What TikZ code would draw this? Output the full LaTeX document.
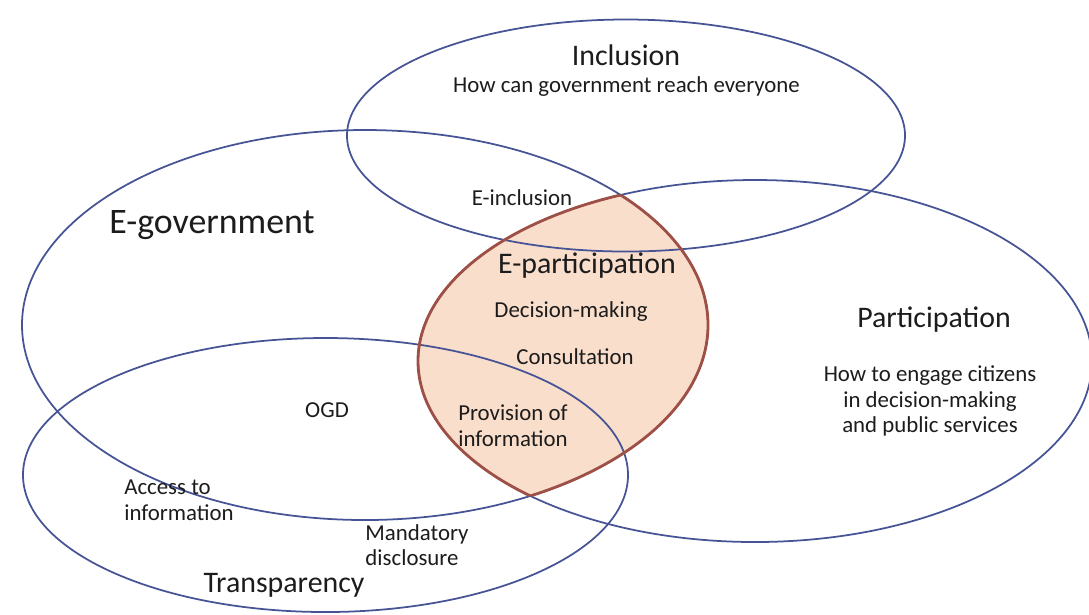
\documentclass[tikz,border=0pt]{standalone}
\usepackage{fontspec}
\setmainfont{Carlito}
\usepackage{tikz}
\usetikzlibrary{positioning}

\definecolor{setline}{RGB}{70,84,150}
\definecolor{lensfill}{RGB}{249,222,204}
\definecolor{lensline}{RGB}{158,80,70}
\definecolor{labeltext}{RGB}{28,28,28}

\begin{document}
\begin{tikzpicture}[
	set/.style={draw=setline, line width=0.5pt},
	lens/.style={draw=lensline, line width=0.8pt},
	title/.style={text=labeltext, font=\fontsize{8.5}{10}\selectfont, inner sep=0pt},
	small/.style={text=labeltext, font=\fontsize{6.5}{7.3}\selectfont, inner sep=0pt}]

	\useasboundingbox (0,0) rectangle (10.89,-6.14);

	% Lens fill
	\begin{scope}
		\clip (3.65,-3.25) ellipse [x radius=3.43cm, y radius=1.95cm];
		\fill[lensfill] (7.55,-3.61) ellipse [x radius=3.37cm, y radius=1.81cm];
	\end{scope}

	% Sets
	\draw[set] (6.26,-1.355) ellipse [x radius=2.79cm, y radius=1.16cm];
	\draw[set] (3.65,-3.25) ellipse [x radius=3.43cm, y radius=1.95cm];
	\draw[set] (7.55,-3.61) ellipse [x radius=3.37cm, y radius=1.81cm];
	\draw[set] (3.255,-4.75) ellipse [x radius=3.025cm, y radius=1.37cm];

	% Lens border
	\begin{scope}
		\clip (3.65,-3.25) ellipse [x radius=3.43cm, y radius=1.95cm];
		\draw[lens] (7.55,-3.61) ellipse [x radius=3.37cm, y radius=1.81cm];
	\end{scope}
	\begin{scope}
		\clip (7.55,-3.61) ellipse [x radius=3.37cm, y radius=1.81cm];
		\draw[lens] (3.65,-3.25) ellipse [x radius=3.43cm, y radius=1.95cm];
	\end{scope}

	% Inclusion
	\node[title](inclusion) at (6.26,-0.55) {Inclusion};
	\node[small](reach) at (6.265,-0.87) {How can government reach everyone};
	\node[small](einclusion) at (5.22,-1.98) {E-inclusion};

	% E-government
	\node[title, font=\fontsize{10.2}{12}\selectfont](egov) at (2.12,-2.25) {E-government};
	\node[small](ogd) at (3.27,-4.10) {OGD};

	% E-participation
	\node[title](epart) at (5.87,-2.66) {E-participation};
	\node[small](decision) at (5.71,-3.12) {Decision-making};
	\node[small](consult) at (5.75,-3.57) {Consultation};
	\node[small, align=left](provision) at (5.13,-4.26) {Provision of\\information};

	% Participation
	\node[title](participation) at (9.34,-3.20) {Participation};
	\node[small, align=center](engage) at (9.30,-4.01) {How to engage citizens\\in decision-making\\and public services};

	% Transparency
	\node[small, align=left](access) at (1.79,-5.00) {Access to\\information};
	\node[small, align=left](mandatory) at (4.17,-5.45) {Mandatory\\disclosure};
	\node[title](transparency) at (2.84,-5.85) {Transparency};
\end{tikzpicture}
\end{document}
